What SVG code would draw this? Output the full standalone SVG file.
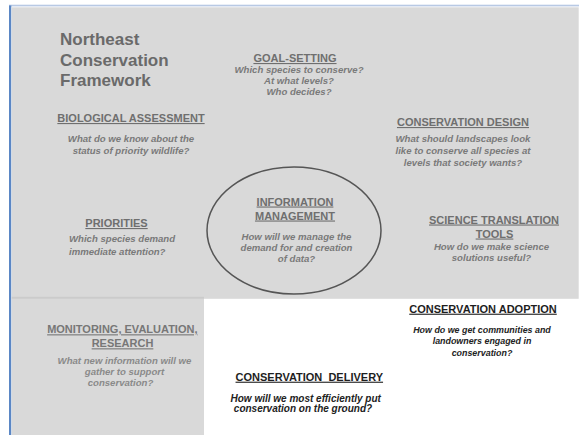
<svg xmlns="http://www.w3.org/2000/svg" width="579" height="435" viewBox="0 0 579 435">
<style>
text{font-family:"Liberation Sans",Arial,sans-serif;font-weight:bold;text-anchor:middle}
.title{font-size:17px;fill:#6a6a6a;text-anchor:start}
.h{font-size:11px;fill:#6f6f6f;text-decoration:underline}
.q{font-size:9.6px;fill:#7a7a7a;font-style:italic}
.ql{fill:#8a8a8a}
.hd{font-size:11px;fill:#1e1e1e;text-decoration:underline}
.qd{font-style:italic;fill:#222}
</style>
<rect x="0" y="0" width="579" height="435" fill="#ffffff"/>
<g id="background">
<rect x="9" y="4.7" width="570" height="1.7" fill="#b8c9e4"/>
<rect x="9" y="5.5" width="2.3" height="429.5" fill="#5b87c5"/>
<rect x="11.7" y="7.3" width="567" height="291.5" fill="#d9d9d9"/>
<rect x="11.7" y="298.5" width="192.3" height="136.5" fill="#d9d9d9"/>
<rect x="11.7" y="296.8" width="192.3" height="2" fill="#cbcbcb"/>
</g>
<g id="title">
<text class="title" x="60" y="45">Northeast</text>
<text class="title" x="60" y="66">Conservation</text>
<text class="title" x="60" y="86">Framework</text>
</g>
<g id="goal-setting">
<text class="h" x="295" y="62">GOAL-SETTING</text>
<text class="q" x="299" y="73">Which species to conserve?</text>
<text class="q" x="299" y="84">At what levels?</text>
<text class="q" x="299" y="95">Who decides?</text>
</g>
<g id="biological-assessment">
<text class="h" x="131" y="122">BIOLOGICAL ASSESSMENT</text>
<text class="q" x="131" y="141.5">What do we know about the</text>
<text class="q" x="131" y="154">status of priority wildlife?</text>
</g>
<g id="conservation-design">
<text class="h" x="463" y="126">CONSERVATION DESIGN</text>
<text class="q" x="463" y="142">What should landscapes look</text>
<text class="q" x="463" y="154">like to conserve all species at</text>
<text class="q" x="463" y="166">levels that society wants?</text>
</g>
<g id="priorities">
<text class="h" x="116.5" y="227">PRIORITIES</text>
<text class="q" x="69" y="242" style="text-anchor:start">Which species demand</text>
<text class="q" x="69" y="254.5" style="text-anchor:start">immediate attention?</text>
</g>
<g id="information-management">
<ellipse cx="294" cy="230.5" rx="87" ry="63.5" fill="none" stroke="#555555" stroke-width="1.5"/>
<text class="h" x="295" y="205.5">INFORMATION</text>
<text class="h" x="295" y="219.5">MANAGEMENT</text>
<text class="q" x="296.5" y="239.5">How will we manage the</text>
<text class="q" x="296.5" y="250.5">demand for and creation</text>
<text class="q" x="296.5" y="262">of data?</text>
</g>
<g id="science-translation-tools">
<text class="h" x="494" y="223.5">SCIENCE TRANSLATION</text>
<text class="h" x="494.5" y="237.5">TOOLS</text>
<text class="q" x="491.5" y="250">How do we make science</text>
<text class="q" x="491.5" y="261">solutions useful?</text>
</g>
<g id="monitoring-evaluation-research">
<text class="h" x="122.3" y="333.3" style="fill:#777777">MONITORING, EVALUATION,</text>
<text class="h" x="122.5" y="347.3" style="fill:#777777">RESEARCH</text>
<text class="q ql" x="124.5" y="364">What new information will we</text>
<text class="q ql" x="124.5" y="374.5">gather to support</text>
<text class="q ql" x="120.5" y="386">conservation?</text>
</g>
<g id="conservation-adoption">
<text class="hd" x="483" y="312.7">CONSERVATION ADOPTION</text>
<text class="qd" x="482" y="333.3" style="font-size:8.9px">How do we get communities and</text>
<text class="qd" x="482" y="344.3" style="font-size:8.9px">landowners engaged in</text>
<text class="qd" x="482" y="355.7" style="font-size:8.9px">conservation?</text>
</g>
<g id="conservation-delivery">
<text class="hd" x="309.3" y="380.7" xml:space="preserve">CONSERVATION  DELIVERY</text>
<text class="qd" x="305.7" y="401.7" style="font-size:10px">How will we most efficiently put</text>
<text class="qd" x="303" y="412.3" style="font-size:10px">conservation on the ground?</text>
</g>
<g id="connectors"/>
</svg>
